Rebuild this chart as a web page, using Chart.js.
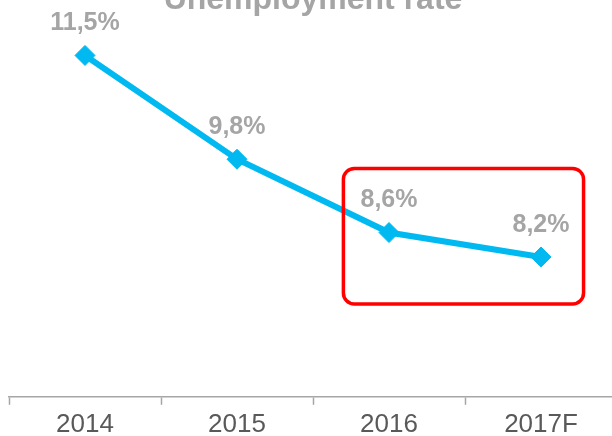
<!DOCTYPE html>
<html>
<head>
<meta charset="utf-8">
<script src="https://cdn.jsdelivr.net/npm/chart.js@4/dist/chart.umd.min.js"></script>
<style>
  html, body { margin: 0; padding: 0; background: #ffffff; }
  body { width: 612px; height: 436px; overflow: hidden; position: relative; }
  #c { position: absolute; left: 0; top: -29px; }
</style>
</head>
<body>
<canvas id="c" width="617" height="474"></canvas>
<script>
// ---- data ----
const categories = ['2014', '2015', '2016', '2017F'];
const unemploymentRate = [11.5, 9.8, 8.6, 8.2];
const chartTitle = 'Unemployment rate';
// highlighted region (category index range, value range)
const highlightX = [1.70, 3.28];
const highlightY = [7.43, 9.65];

const FONT = '"Liberation Sans", Arial, sans-serif';

const valueLabels = {
  id: 'valueLabels',
  afterDatasetsDraw(chart) {
    const ctx = chart.ctx;
    const meta = chart.getDatasetMeta(0);
    ctx.save();
    ctx.font = 'bold 25px ' + FONT;
    ctx.fillStyle = '#a5a5a5';
    ctx.textAlign = 'center';
    ctx.textBaseline = 'middle';
    meta.data.forEach((pt, i) => {
      const txt = unemploymentRate[i].toFixed(1).replace('.', ',') + '%';
      ctx.fillText(txt, pt.x, pt.y - 32);
    });
    ctx.restore();
  }
};

const highlightBox = {
  id: 'highlightBox',
  afterDatasetsDraw(chart) {
    const ctx = chart.ctx;
    const xs = chart.scales.x, ys = chart.scales.y;
    const x1 = xs.getPixelForValue(highlightX[0]);
    const x2 = xs.getPixelForValue(highlightX[1]);
    const y1 = ys.getPixelForValue(highlightY[1]);
    const y2 = ys.getPixelForValue(highlightY[0]);
    ctx.save();
    ctx.strokeStyle = '#ff0000';
    ctx.lineWidth = 3.5;
    ctx.beginPath();
    ctx.roundRect(x1, y1, x2 - x1, y2 - y1, 11);
    ctx.stroke();
    ctx.restore();
  }
};

new Chart(document.getElementById('c'), {
  type: 'line',
  data: {
    labels: categories,
    datasets: [{
      data: unemploymentRate,
      borderColor: '#00b9f1',
      backgroundColor: '#00b9f1',
      borderWidth: 6,
      pointStyle: 'rectRot',
      pointRadius: 10,
      pointBorderWidth: 1,
      pointBorderColor: '#00b9f1',
      pointBackgroundColor: '#00b9f1',
      tension: 0,
      clip: false
    }]
  },
  options: {
    responsive: false,
    animation: false,
    devicePixelRatio: 1,
    layout: { autoPadding: false, padding: { left: 9, right: 0, top: 0, bottom: 0 } },
    plugins: {
      legend: { display: false },
      tooltip: { enabled: false },
      title: {
        display: true,
        text: chartTitle,
        color: '#a5a5a5',
        font: { family: FONT, size: 32, weight: 'bold' },
        padding: { top: 10, bottom: 0 }
      }
    },
    scales: {
      x: {
        offset: true,
        grid: {
          display: true,
          offset: true,
          drawOnChartArea: false,
          drawTicks: true,
          tickLength: 8,
          tickWidth: 1.5,
          tickColor: '#a6a6a6'
        },
        border: { display: true, color: '#a6a6a6', width: 1.5 },
        ticks: {
          color: '#595959',
          padding: 4.5,
          font: { family: FONT, size: 26 },
          maxRotation: 0,
          autoSkip: false
        }
      },
      y: {
        display: false,
        min: 5.91,
        max: 12.09
      }
    }
  },
  plugins: [valueLabels, highlightBox]
});
</script>
</body>
</html>
